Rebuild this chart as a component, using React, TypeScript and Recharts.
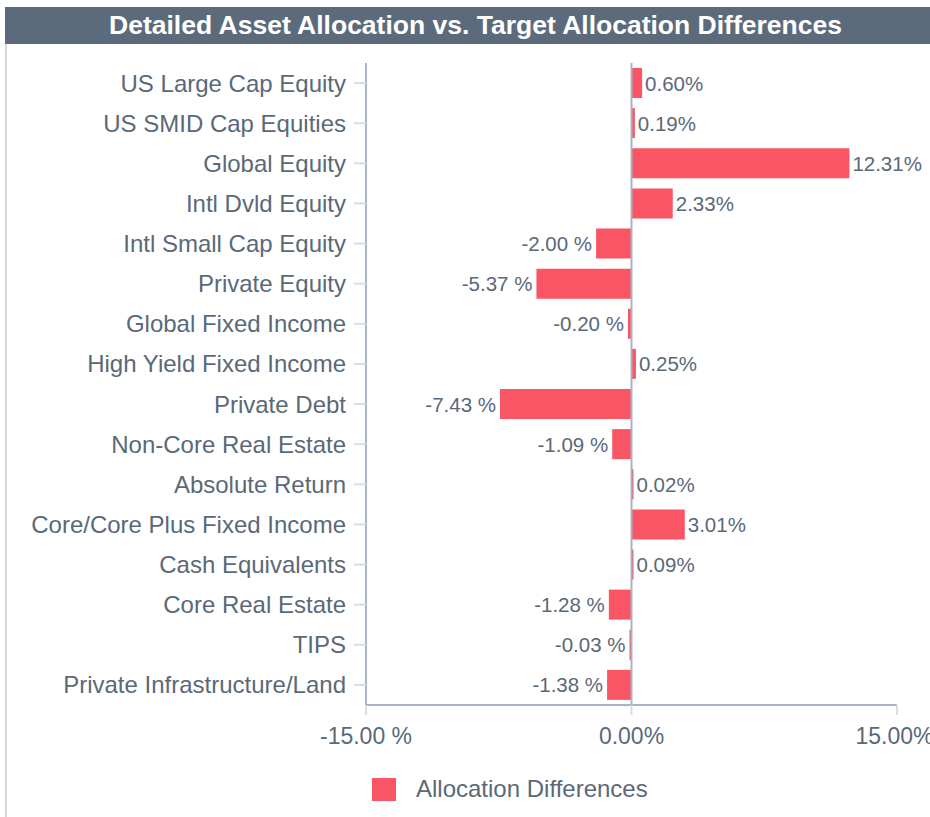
import { BarChart, Bar, XAxis, YAxis, ReferenceLine, LabelList, Legend } from "recharts";

const categories = [
  "US Large Cap Equity",
  "US SMID Cap Equities",
  "Global Equity",
  "Intl Dvld Equity",
  "Intl Small Cap Equity",
  "Private Equity",
  "Global Fixed Income",
  "High Yield Fixed Income",
  "Private Debt",
  "Non-Core Real Estate",
  "Absolute Return",
  "Core/Core Plus Fixed Income",
  "Cash Equivalents",
  "Core Real Estate",
  "TIPS",
  "Private Infrastructure/Land",
];

const differences = [0.6, 0.19, 12.31, 2.33, -2.0, -5.37, -0.2, 0.25, -7.43, -1.09, 0.02, 3.01, 0.09, -1.28, -0.03, -1.38];

const xTicks = [-15, 0, 15];

const data = categories.map((name, i) => ({ name, value: differences[i] }));

const FONT = '"Liberation Sans", Arial, sans-serif';
const INK = "#5a6978";
const BAR = "#f95565";

const fmt = (v: number) => (v < 0 ? `${v.toFixed(2)} %` : `${v.toFixed(2)}%`);

function BarLabel(props: any) {
  const { x, y, width, height, value } = props;
  const left = Math.min(x, x + width);
  const right = Math.max(x, x + width);
  const neg = value < 0;
  return (
    <text
      x={neg ? left - 4 : right + 3}
      y={y + height / 2}
      textAnchor={neg ? "end" : "start"}
      dominantBaseline="central"
      fill={INK}
      fontSize={20.5}
      fontFamily={FONT}
    >
      {fmt(value)}
    </text>
  );
}

function LegendBox() {
  return (
    <div style={{ display: "flex", alignItems: "center", fontFamily: FONT, fontSize: 24, color: INK }}>
      <span style={{ width: 24, height: 23, background: BAR, display: "inline-block", marginRight: 20 }} />
      <span>Allocation Differences</span>
    </div>
  );
}

export default function App() {
  return (
    <div style={{ position: "absolute", left: 0, top: 0, width: 930, height: 817, background: "#fff", fontFamily: FONT }}>
      <div
        style={{
          position: "absolute",
          left: 5,
          top: 7,
          width: 925,
          height: 37,
          background: "#5b6b7b",
          color: "#fff",
          fontWeight: "bold",
          fontSize: 26.5,
          lineHeight: "37px",
          textAlign: "center",
          paddingLeft: 16,
          boxSizing: "border-box",
          whiteSpace: "nowrap",
        }}
      >
        Detailed Asset Allocation vs. Target Allocation Differences
      </div>
      <div style={{ position: "absolute", left: 5, top: 44, width: 2, height: 773, background: "#d3d9e0" }} />
      <div style={{ position: "absolute", left: 0, top: 0 }}>
        <BarChart
          width={930}
          height={817}
          data={data}
          layout="vertical"
          barCategoryGap={5}
          margin={{ top: 63, right: 33, bottom: 62, left: 0 }}
        >
          <XAxis
            type="number"
            domain={[-15, 15]}
            ticks={xTicks}
            tickFormatter={fmt}
            height={50}
            tickSize={10}
            tickMargin={13}
            axisLine={{ stroke: "#a9b4c0", strokeWidth: 2 }}
            tickLine={{ stroke: "#d9dde2", strokeWidth: 2 }}
            tick={{ fill: INK, fontSize: 23, fontFamily: FONT }}
          />
          <YAxis
            type="category"
            dataKey="name"
            width={366}
            interval={0}
            tickSize={12}
            tickMargin={8}
            axisLine={{ stroke: "#a9b4c0", strokeWidth: 2 }}
            tickLine={{ stroke: "#d9dde2", strokeWidth: 2 }}
            tick={{ fill: INK, fontSize: 24, fontFamily: FONT }}
          />
          <ReferenceLine x={0} stroke="#a9b4c0" strokeWidth={2} />
          <Legend
            layout="vertical"
            align="center"
            verticalAlign="middle"
            content={() => <LegendBox />}
            wrapperStyle={{ left: 372, top: 775, width: 320 }}
          />
          <Bar dataKey="value" name="Allocation Differences" fill={BAR} barSize={30} minPointSize={2} isAnimationActive={false}>
            <LabelList dataKey="value" content={BarLabel} />
          </Bar>
        </BarChart>
      </div>
    </div>
  );
}
